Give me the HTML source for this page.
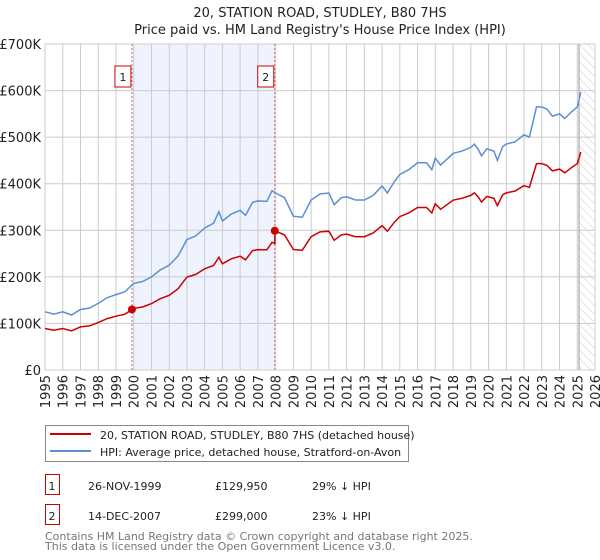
<!DOCTYPE html>
<html><head><meta charset="utf-8"><style>
body{margin:0;background:#fff;font-family:"Liberation Sans","DejaVu Sans",sans-serif;}
#wrap{position:relative;width:600px;height:560px;overflow:hidden}
svg text{font-family:"DejaVu Sans","Liberation Sans",sans-serif}
</style></head><body><div id="wrap">
<svg id="chart" width="600" height="560"></svg>
</div>
<script>
const hpiYears=[1995,1995.5,1996,1996.5,1997,1997.5,1998,1998.5,1999,1999.5,2000,2000.5,2001,2001.5,2002,2002.5,2003,2003.5,2004,2004.5,2004.8,2005,2005.5,2006,2006.3,2006.7,2007,2007.5,2007.8,2008,2008.5,2009,2009.5,2010,2010.5,2011,2011.3,2011.7,2012,2012.5,2013,2013.5,2014,2014.3,2014.7,2015,2015.5,2016,2016.5,2016.8,2017,2017.3,2018,2018.5,2019,2019.2,2019.4,2019.6,2019.9,2020.3,2020.5,2020.8,2021,2021.5,2022,2022.3,2022.7,2023,2023.3,2023.6,2024,2024.3,2024.7,2025,2025.2];
const hpiValues=[125,120,125,118,130,133,143,155,162,168,186,190,200,215,225,245,280,288,305,315,340,320,335,343,332,360,363,362,385,380,370,330,328,365,378,380,355,370,372,365,365,375,395,380,405,420,430,445,445,430,455,440,465,470,478,485,475,460,475,470,450,480,485,490,505,500,565,565,560,545,550,540,555,565,597];
const saleDates=[1999.9,2007.95];
const salePrices=[129.95,299];
const saleLabels=["1","2"];
const yTicks=[0,100,200,300,400,500,600,700];
const yTickLabels=["£0","£100K","£200K","£300K","£400K","£500K","£600K","£700K"];
const xTicks=[1995,1996,1997,1998,1999,2000,2001,2002,2003,2004,2005,2006,2007,2008,2009,2010,2011,2012,2013,2014,2015,2016,2017,2018,2019,2020,2021,2022,2023,2024,2025,2026];

const L=45,R=595,T=44,B=370;
const x=v=>L+(v-1995)/31*(R-L);
const y=v=>B-v/700*(B-T);
const NS="http://www.w3.org/2000/svg";
const svg=document.getElementById('chart');
function mk(tag,attrs,parent){const e=document.createElementNS(NS,tag);for(const k in attrs)e.setAttribute(k,attrs[k]);(parent||svg).appendChild(e);return e;}
function hpiAt(t){for(let i=0;i<hpiYears.length-1;i++){if(t<=hpiYears[i+1]){const f=(t-hpiYears[i])/(hpiYears[i+1]-hpiYears[i]);return hpiValues[i]+f*(hpiValues[i+1]-hpiValues[i]);}}return hpiValues[hpiValues.length-1];}

// title
let t=mk('text',{x:320,y:17,'text-anchor':'middle','font-size':13,fill:'#222'});t.textContent="20, STATION ROAD, STUDLEY, B80 7HS";

t=mk('text',{x:320,y:34,'text-anchor':'middle','font-size':13,fill:'#222'});t.textContent="Price paid vs. HM Land Registry's House Price Index (HPI)";


// shaded band
let band=mk('rect',{x:x(saleDates[0]),y:T,width:x(saleDates[1])-x(saleDates[0]),height:B-T,fill:'#eef3fd'});

// hatch
const defs=mk('defs',{});
const pat=mk('pattern',{id:'hatch',width:6,height:6,patternUnits:'userSpaceOnUse',patternTransform:'rotate(-45)'},defs);
mk('line',{x1:0,y1:0,x2:0,y2:6,stroke:'#ccc','stroke-width':1},pat);
let h=mk('rect',{x:x(2025.1),y:T,width:R-x(2025.1),height:B-T,fill:'url(#hatch)'});


// grid
yTicks.forEach((v,i)=>{
 const g=mk('line',{x1:L,x2:R,y1:y(v),y2:y(v),stroke:'#ccc','stroke-width':1});
 
 const tx=mk('text',{x:L-4,y:y(v)+5,'text-anchor':'end','font-size':13,fill:'#222'});tx.textContent=yTickLabels[i];
 
});
xTicks.forEach(v=>{
 const g=mk('line',{x1:x(v),x2:x(v),y1:T,y2:B,stroke:'#ccc','stroke-width':1});
 
 const tx=mk('text',{x:0,y:0,'text-anchor':'end','font-size':13,fill:'#222',transform:`translate(${x(v)+5},${B+5}) rotate(-90)`});tx.textContent=v;
 
});
let vl=mk('line',{x1:x(2025.1),x2:x(2025.1),y1:T,y2:B,stroke:'#999','stroke-width':1});


// sale marker lines
saleDates.forEach((d,i)=>{
 const ln=mk('line',{x1:x(d),x2:x(d),y1:T,y2:B,stroke:'#e06060','stroke-width':1,'stroke-dasharray':'2,2'});
 
 const bx=mk('rect',{x:x(d)-17,y:66,width:16,height:21,fill:'#fff',stroke:'#c00','stroke-width':1});
 
 const tx=mk('text',{x:x(d)-9,y:81,'text-anchor':'middle','font-size':11,fill:'#222'});tx.textContent=saleLabels[i];
 
});

// HPI line
let pts=hpiYears.map((yr,i)=>x(yr).toFixed(1)+','+y(hpiValues[i]).toFixed(1)).join(' ');
let hp=mk('polyline',{points:pts,fill:'none',stroke:'#5b8fd6','stroke-width':1.5});


// property line, indexed from sales
const r0=salePrices[0]/hpiAt(saleDates[0]),r1=salePrices[1]/hpiAt(saleDates[1]);
let rp=[];
hpiYears.forEach((yr,i)=>{
 if(yr<saleDates[1]) rp.push([yr,hpiValues[i]*r0]);
});
rp.push([saleDates[1],hpiAt(saleDates[1])*r0]);
rp.push([saleDates[1],salePrices[1]]);
hpiYears.forEach((yr,i)=>{ if(yr>saleDates[1]) rp.push([yr,hpiValues[i]*r1]); });
let pl=mk('polyline',{points:rp.map(p=>x(p[0]).toFixed(1)+','+y(p[1]).toFixed(1)).join(' '),fill:'none',stroke:'#cc0000','stroke-width':1.5});

saleDates.forEach((d,i)=>{
 const c=mk('circle',{cx:x(d),cy:y(salePrices[i]),r:4,fill:'#cc0000'});
 
});

// legend
let lg=mk('rect',{x:45.5,y:425.5,width:363,height:36,fill:'#fff',stroke:'#888'});

mk('line',{x1:50,x2:91,y1:434,y2:434,stroke:'#cc0000','stroke-width':2});
mk('line',{x1:50,x2:91,y1:451,y2:451,stroke:'#5b8fd6','stroke-width':2});
t=mk('text',{x:100,y:439,'font-size':11,fill:'#222'});t.textContent="20, STATION ROAD, STUDLEY, B80 7HS (detached house)";

t=mk('text',{x:100,y:456,'font-size':11,fill:'#222'});t.textContent="HPI: Average price, detached house, Stratford-on-Avon";


// table
const rows=[["1","26-NOV-1999","£129,950","29% ↓ HPI"],["2","14-DEC-2007","£299,000","23% ↓ HPI"]];
rows.forEach((r,i)=>{
 const yy=488+i*30;
 const b=mk('rect',{x:45.5,y:yy-13.5,width:14,height:20,fill:'#fff',stroke:'#c00'});
 
 [[52,r[0],'middle'],[88,r[1],'start'],[215,r[2],'start'],[312,r[3],'start']].forEach(c=>{
  const tx=mk('text',{x:c[0],y:yy+2,'text-anchor':c[2],'font-size':11,fill:'#222'});tx.textContent=c[1];
  
 });
});
t=mk('text',{x:45,y:540,'font-size':11,fill:'#777'});t.textContent="Contains HM Land Registry data © Crown copyright and database right 2025.";

t=mk('text',{x:45,y:550,'font-size':11,fill:'#777'});t.textContent="This data is licensed under the Open Government Licence v3.0.";

</script></body></html>
